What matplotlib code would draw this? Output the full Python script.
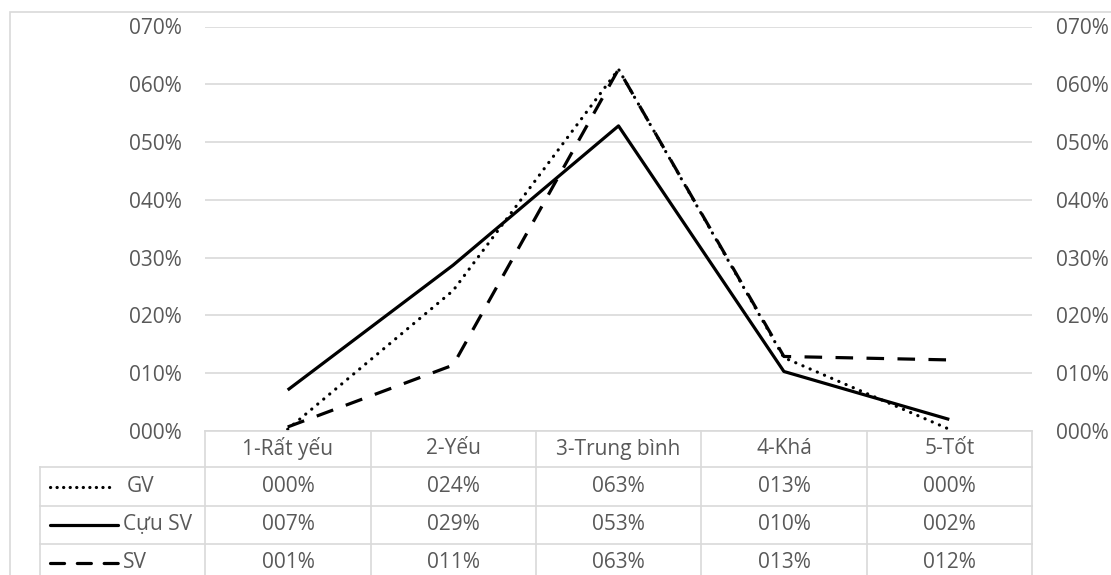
import numpy as np
import matplotlib
matplotlib.use("Agg")
import matplotlib.pyplot as plt
from matplotlib.patches import Rectangle
from matplotlib.lines import Line2D

plt.rcParams['font.family'] = ['Open Sans', 'DejaVu Sans']

# ----------------- Data -----------------
categories = ['1-Rất yếu', '2-Yếu', '3-Trung bình', '4-Khá', '5-Tốt']
series_names = ['GV', 'Cựu SV', 'SV']
gv = [0.003, 0.243, 0.626, 0.127, 0.003]
cuu_sv = [0.071, 0.287, 0.528, 0.103, 0.020]
sv = [0.007, 0.114, 0.626, 0.129, 0.123]
y_ticks = [0.0, 0.1, 0.2, 0.3, 0.4, 0.5, 0.6, 0.7]

TEXT = '#595959'
GRID = '#d9d9d9'
FS = 15

def pct(v):
    return f"{int(round(v * 100)):03d}%"

W, H = 1111, 575
fig = plt.figure(figsize=(W / 100, H / 100), dpi=100)

# outer chart border
fig.patches.append(Rectangle((10 / W, -0.1), 1.2, (H - 12) / H + 0.1,
                             transform=fig.transFigure, fill=False,
                             edgecolor=GRID, linewidth=1.2))

# ----------------- Line chart -----------------
left, right = 205 / W, 1032 / W
bottom, top = (H - 431) / H, (H - 26.5) / H
ax = fig.add_axes([left, bottom, right - left, top - bottom])
x = np.arange(len(categories))

styles = {
    'GV': dict(linestyle=(0, (0.05, 2.4)), dash_capstyle='round'),
    'Cựu SV': dict(linestyle='-', solid_capstyle='butt'),
    'SV': dict(linestyle=(0, (5.5, 4.2)), dash_capstyle='butt'),
}
key_styles = {
    'GV': dict(linestyle=(0, (0.05, 2.0)), dash_capstyle='round'),
    'Cựu SV': dict(linestyle='-', solid_capstyle='round'),
    'SV': dict(linestyle=(0, (4.4, 4.0)), dash_capstyle='round'),
}
key_span = {'GV': (-1.44, -1.05), 'Cựu SV': (-1.44, -1.03), 'SV': (-1.44, -1.03)}
text_x = {'GV': -0.975, 'Cựu SV': -1.0, 'SV': -1.0}

data = {'GV': gv, 'Cựu SV': cuu_sv, 'SV': sv}
for name in series_names:
    ax.plot(x, data[name], color='black', linewidth=2.3, clip_on=False,
            zorder=3, **styles[name])

ax.set_xlim(-0.5, len(categories) - 0.5)
ax.set_ylim(0, 0.7)
ax.set_yticks(y_ticks)
ax.yaxis.set_major_formatter(plt.FuncFormatter(lambda v, p: pct(v)))
ax.tick_params(axis='y', which='both', length=0, pad=17, labelsize=FS,
               labelcolor=TEXT, labelleft=True, labelright=True)
ax.set_xticks([])
for s in ax.spines.values():
    s.set_visible(False)
ax.grid(axis='y', color=GRID, linewidth=1.2)
ax.set_axisbelow(True)
ax.patch.set_alpha(0)

# ----------------- Data table -----------------
tleft = 40 / W
tax = fig.add_axes([tleft, 0, right - tleft, bottom])
tax.set_xlim(-1.5, len(categories) - 0.5)
tax.set_ylim(144, 0)  # pixel rows from the top of the table
tax.axis('off')

row_lines = [36, 75, 113, 152]
row_centers = [18, 55.5, 94, 132]
line_kw = dict(color=GRID, linewidth=1.2, clip_on=False)

# header row
tax.plot([-0.5, len(categories) - 0.5], [0, 0], **line_kw)
for b in np.arange(-0.5, len(categories)):
    tax.plot([b, b], [0, 152], **line_kw)
tax.plot([-1.5, -1.5], [36, 152], **line_kw)
for yl in row_lines:
    tax.plot([-1.5, len(categories) - 0.5], [yl, yl], **line_kw)

for i, c in enumerate(categories):
    tax.text(i, row_centers[0], c, ha='center', va='center', fontsize=FS, color=TEXT)

for r, name in enumerate(series_names):
    yc = row_centers[r + 1]
    x0, x1 = key_span[name]
    tax.add_line(Line2D([x0, x1], [yc, yc], color='black', linewidth=2.3,
                        **key_styles[name]))
    tax.text(text_x[name], yc, name, ha='left', va='center',
             fontsize=FS, color=TEXT)
    for i, v in enumerate(data[name]):
        tax.text(i, yc, pct(v), ha='center', va='center', fontsize=FS, color=TEXT)

fig.savefig("out.png", dpi=100)
